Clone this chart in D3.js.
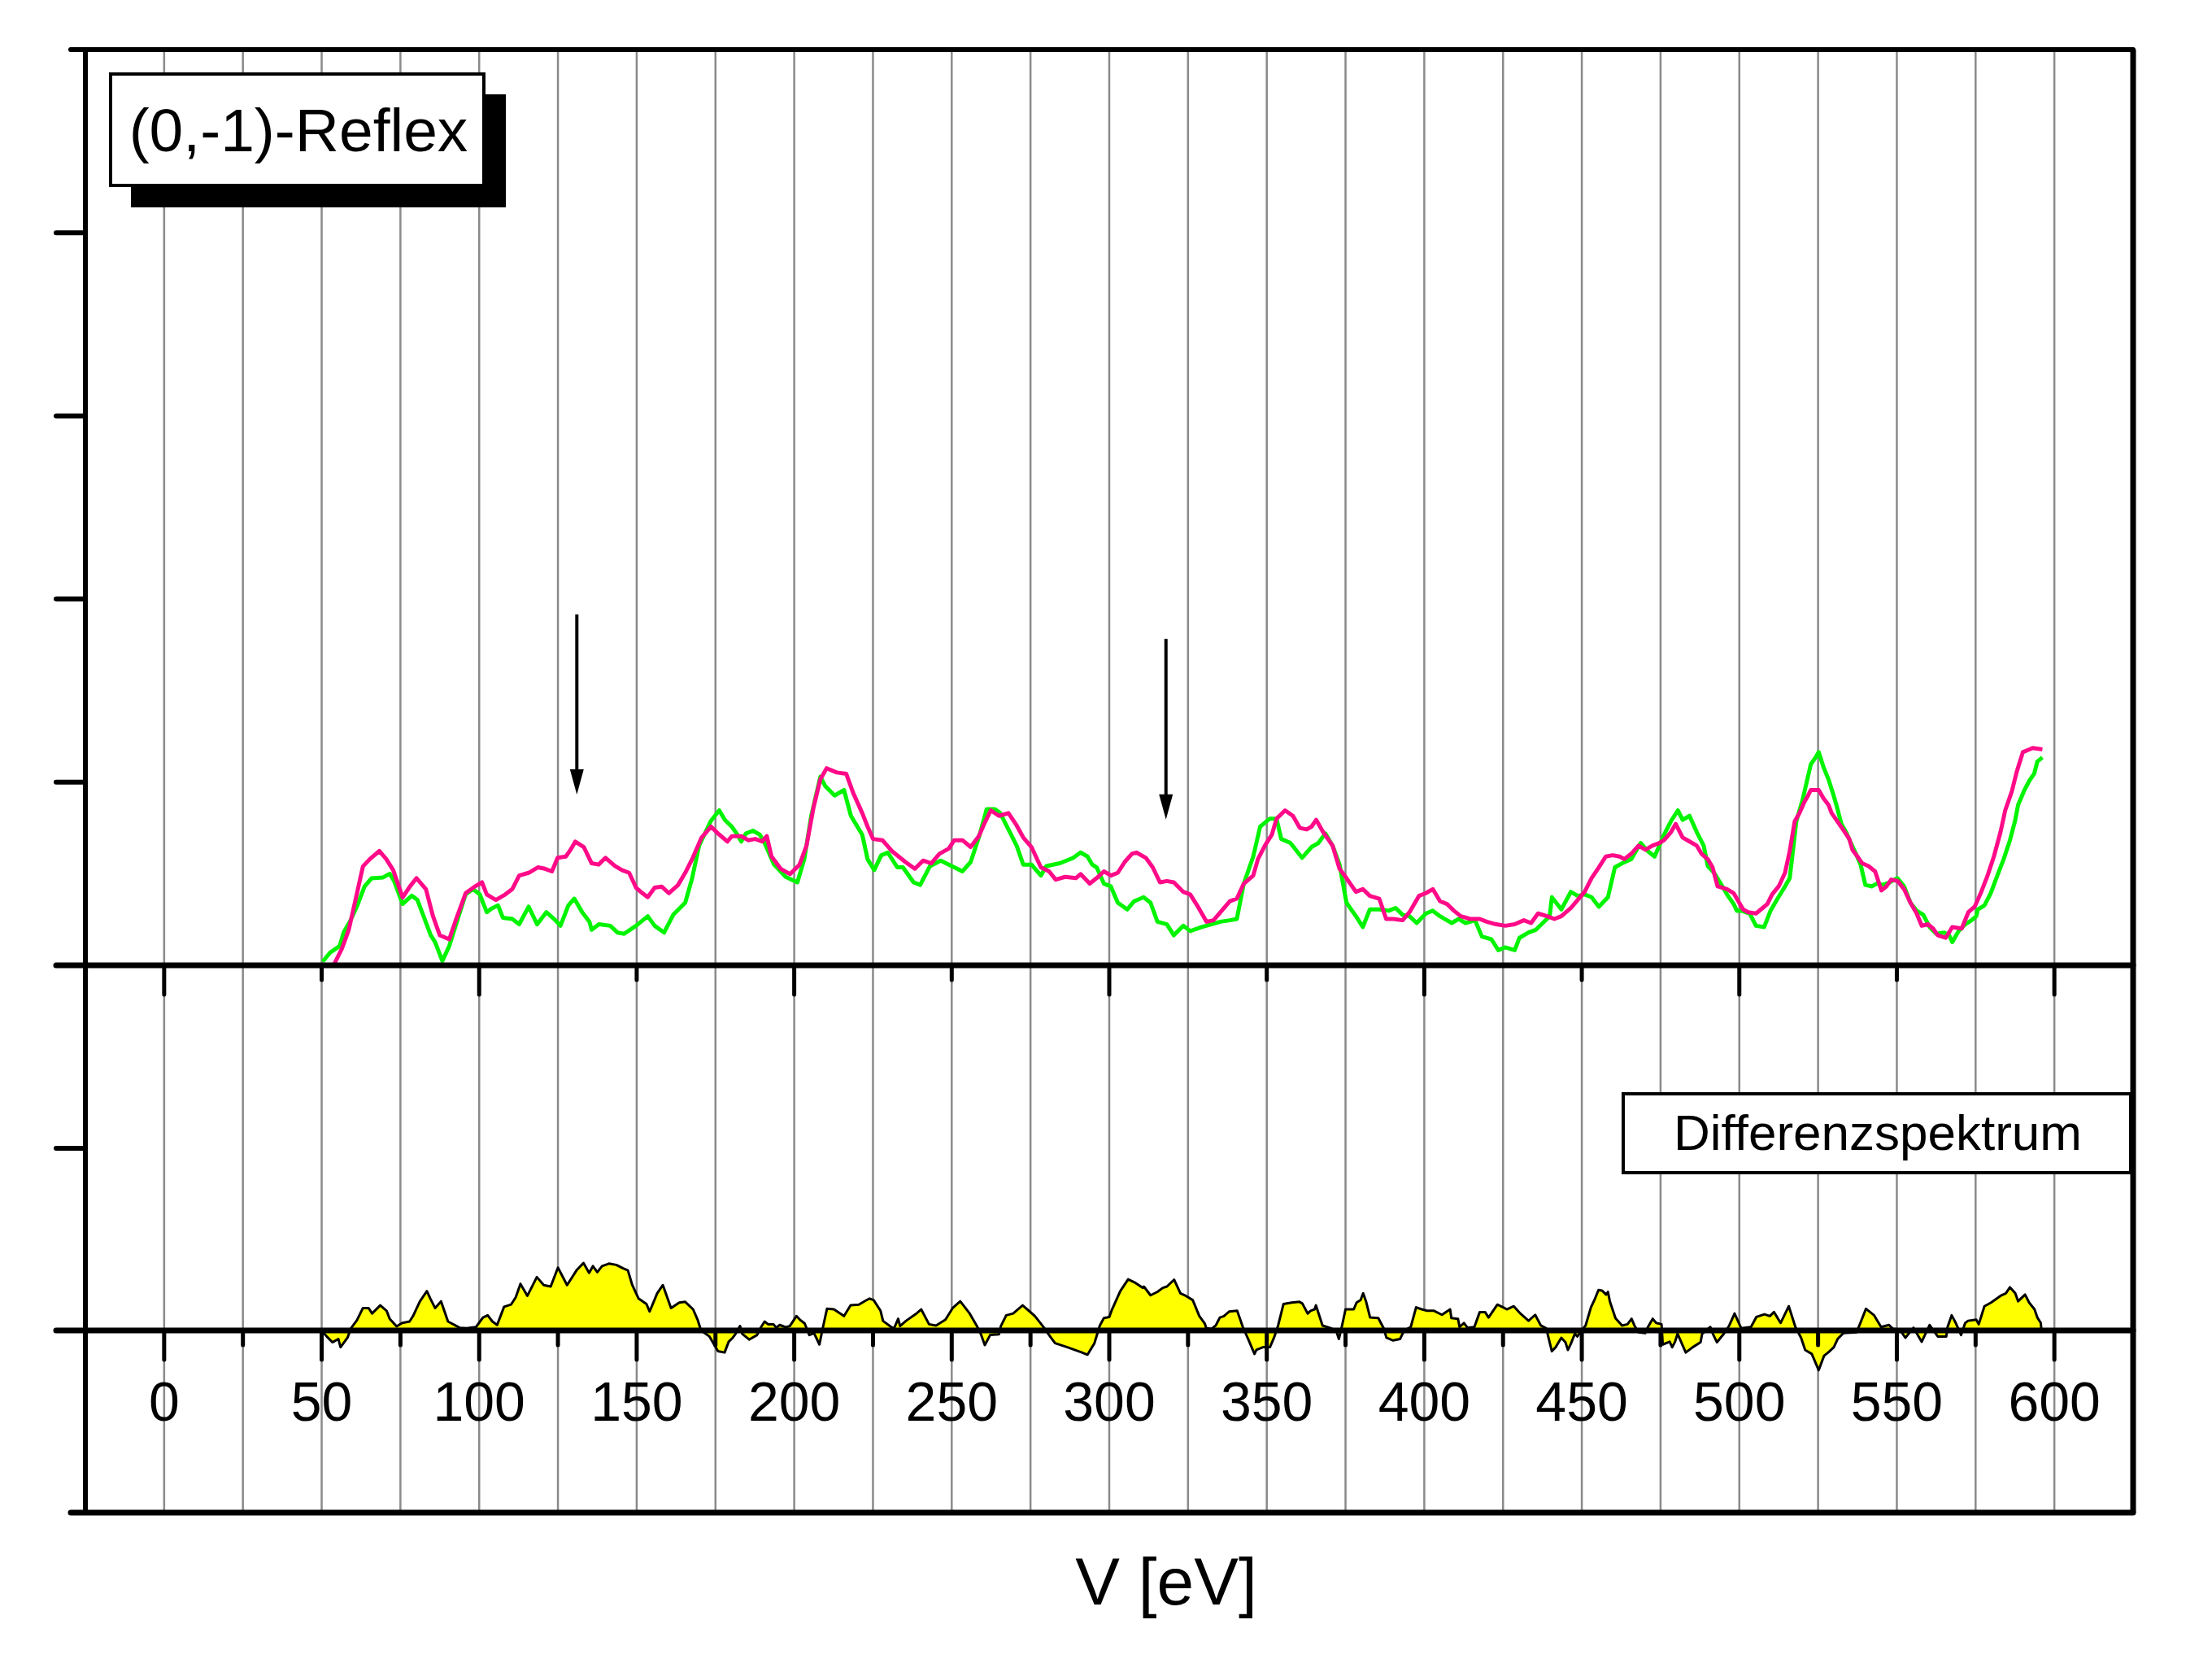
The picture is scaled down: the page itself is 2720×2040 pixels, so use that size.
<!DOCTYPE html>
<html>
<head>
<meta charset="utf-8">
<script src="https://cdn.jsdelivr.net/npm/d3@7"></script>
<style>
  html, body { margin: 0; padding: 0; background: #ffffff; }
  svg { display: block; }
  text { font-family: "Liberation Sans", Arial, sans-serif; fill: #000; }
</style>
</head>
<body>
<svg id="chart" width="2720" height="2040"></svg>
<script>
// ---------------- DATA ----------------
// energies (eV) and intensities (arbitrary units, one unit = one y-tick) of the green spectrum
const greenE = [50.3,52.7,55.7,57,59,61.4,63.6,65.8,69.5,71.6,73,75.7,78.6,80.4,82.3,84.6,86,88.3,90.5,93.5,95.7,98,100.2,102.4,103.9,106,107.5,110.5,112.7,115.7,118.4,121.3,123.8,125.8,128.3,130.2,132.7,135,135.7,138,141.6,143.9,146,149.8,153.5,155.7,158.7,161.6,165.4,167.6,169.8,173.5,176.2,178,180.2,181.7,183.2,184.7,186.9,189.1,190.6,193.6,197.3,201,203.2,205.4,208.3,209.8,212.8,215.8,218,221.6,223.3,225.4,227.6,229.7,232.7,234.5,237.9,240,243.1,246.5,250,253.4,256,258.6,261.1,263.7,265.4,268,270.6,272.7,275.3,278.3,280,284.3,286.4,288.6,290.9,293.1,294.6,296,298.3,300.5,302.7,305.7,307.9,310.9,313.1,315.3,318.3,320.5,323.5,325.7,329.4,332.4,335.3,338.3,340.5,342.7,345.7,347.9,350.9,353.1,354.6,357.5,361.2,364.2,366.4,368.6,370.9,373.1,375.3,378.3,380.5,382.7,385.7,388.7,390.9,393.1,395.3,397.6,400.5,402.7,405,408.7,410.9,413.1,416.1,418.3,421.3,423.5,425.7,428.7,430.2,433.1,435.4,437.6,439.8,440.5,443.5,446.5,448.7,450.9,453.1,455.4,458.3,460.5,462.8,465.7,468.7,470.9,473.1,474.6,476.1,478.3,480.5,482,484.2,486.5,488.7,490,492,494.1,496.1,498.2,499.2,500.7,503.3,505.3,507.9,509.9,511.9,514.5,516,517,518.1,520.1,521.1,522.7,524.2,525.2,526.7,528.3,529.8,530.8,532.4,533.9,535.4,537,538.5,540,542.1,543.6,545.6,547.7,550.2,552.3,554.3,556.3,558.4,560.4,562.5,565,566.6,567.6,569.6,571.7,573.7,575.2,575.7,577.8,579.8,581.9,583.9,585.9,587.5,588.5,590.5,592.1,593.6,594.6,596.2];
const greenI = [0.02,0.07,0.105,0.18,0.24,0.33,0.43,0.475,0.48,0.5,0.46,0.335,0.38,0.357,0.27,0.165,0.127,0.024,0.105,0.27,0.387,0.416,0.387,0.29,0.31,0.327,0.26,0.253,0.224,0.32,0.224,0.29,0.253,0.216,0.327,0.364,0.29,0.238,0.194,0.224,0.216,0.179,0.172,0.216,0.268,0.216,0.179,0.276,0.342,0.476,0.653,0.787,0.846,0.794,0.757,0.72,0.676,0.72,0.735,0.713,0.668,0.55,0.483,0.453,0.58,0.816,1.03,0.98,0.927,0.957,0.816,0.713,0.579,0.52,0.6,0.616,0.535,0.535,0.453,0.439,0.542,0.572,0.542,0.513,0.564,0.698,0.853,0.853,0.831,0.742,0.653,0.55,0.55,0.49,0.542,0.557,0.572,0.587,0.616,0.594,0.55,0.535,0.446,0.431,0.342,0.305,0.35,0.372,0.342,0.238,0.224,0.164,0.216,0.187,0.209,0.224,0.238,0.246,0.253,0.446,0.594,0.757,0.8,0.8,0.69,0.668,0.587,0.646,0.668,0.72,0.653,0.55,0.342,0.268,0.209,0.305,0.305,0.298,0.313,0.276,0.268,0.231,0.283,0.298,0.268,0.231,0.253,0.231,0.246,0.157,0.142,0.083,0.098,0.083,0.15,0.179,0.194,0.231,0.268,0.372,0.305,0.401,0.379,0.387,0.372,0.32,0.372,0.535,0.557,0.58,0.668,0.624,0.594,0.653,0.713,0.787,0.846,0.794,0.816,0.727,0.653,0.542,0.505,0.446,0.387,0.335,0.298,0.298,0.283,0.216,0.209,0.298,0.357,0.431,0.476,0.624,0.787,0.905,0.979,1.098,1.135,1.164,1.083,1.016,0.935,0.876,0.772,0.727,0.668,0.609,0.55,0.439,0.431,0.446,0.439,0.453,0.476,0.431,0.342,0.298,0.276,0.209,0.172,0.179,0.164,0.127,0.187,0.224,0.246,0.268,0.305,0.327,0.394,0.49,0.579,0.683,0.787,0.876,0.957,1.009,1.046,1.113,1.135];

// magenta spectrum
const pinkE = [53.5,56.4,58.6,60.9,63.1,65.3,68.3,70.5,72.7,75.7,78,80.1,83.1,85.3,87.5,90.5,92.7,95.7,98.6,100.9,102.4,105.3,108.3,110.5,112.7,115.7,118.6,120.9,123.1,124.9,127.5,129,130.5,133.2,135.7,137.9,140.1,143.1,145.3,147.6,149.8,151.3,153.5,155.7,157.9,160.2,163.1,165.4,167.6,170.6,173.6,175.8,178.8,180.2,183.2,185.4,187.6,189.8,191.3,192.8,195.7,198.7,201.7,203.9,206.1,208.3,210.3,213.5,216.5,218.7,221.6,223.3,225,228,231,235.3,238.3,240.9,243.5,246.1,249.1,250.8,253.4,256,258.6,260.3,262.4,265,268,270.6,272.7,275.3,278.3,280.9,283,286,289.4,290.9,293.8,296,298.3,300.5,302.7,304.9,307.2,308.6,311.6,313.8,316.1,318.3,320.5,323.5,325.7,327.9,330.9,333.1,335.3,338.3,340.5,342.7,345.7,347.2,349.4,351.6,353.1,355.8,358.3,360.5,362.7,364.2,365.7,367.9,370.9,373.1,375.3,378.3,380.5,382.7,385.7,387.9,390.2,393.1,395.3,398.3,400.5,402.7,405,407.2,409.4,411.6,414.6,417.6,419.8,422.8,425.7,428.7,431.6,433.9,436.1,439,441.3,443.5,446.5,448.7,450.9,453.1,455.4,457.6,459.8,462,463.5,465.7,468,470.2,472.4,474.6,476.1,478.3,479.8,482,484.2,486.5,488,490,491.5,493.1,494.6,496.1,498.2,499.7,501.2,502.8,505.3,507.4,508.9,510.4,512.5,514.5,516,517.6,519.1,520.6,521.6,522.7,525.2,526.7,528.3,529.3,530.8,532.9,534.9,535.9,537.5,539,541,543.1,545.1,546.7,548.2,550.2,552.3,554.3,556.3,557.9,559.9,561.5,563,565.5,567.6,570.6,572.7,574.7,576.8,578.8,580.8,582.9,584.4,586.5,588,590,592.1,593.1,596.2];
const pinkI = [-0.01,0.09,0.194,0.37,0.54,0.58,0.624,0.58,0.52,0.37,0.43,0.476,0.416,0.27,0.164,0.142,0.253,0.394,0.43,0.453,0.387,0.357,0.387,0.416,0.49,0.505,0.535,0.527,0.513,0.587,0.594,0.631,0.675,0.646,0.557,0.55,0.587,0.542,0.52,0.505,0.424,0.401,0.372,0.424,0.43,0.394,0.438,0.505,0.58,0.698,0.757,0.72,0.676,0.705,0.705,0.683,0.69,0.676,0.705,0.594,0.527,0.498,0.55,0.653,0.86,1.016,1.076,1.053,1.046,0.942,0.831,0.757,0.69,0.683,0.624,0.564,0.527,0.572,0.557,0.609,0.638,0.683,0.683,0.646,0.705,0.772,0.846,0.816,0.831,0.764,0.698,0.646,0.535,0.513,0.468,0.483,0.476,0.498,0.446,0.476,0.513,0.49,0.505,0.564,0.609,0.616,0.587,0.535,0.453,0.46,0.453,0.401,0.387,0.327,0.238,0.246,0.29,0.35,0.364,0.446,0.49,0.58,0.653,0.713,0.8,0.846,0.816,0.75,0.742,0.757,0.794,0.727,0.653,0.527,0.476,0.401,0.416,0.379,0.364,0.253,0.253,0.246,0.29,0.379,0.394,0.416,0.35,0.335,0.298,0.268,0.253,0.253,0.238,0.224,0.216,0.224,0.246,0.231,0.283,0.268,0.253,0.268,0.313,0.357,0.401,0.476,0.535,0.594,0.601,0.594,0.58,0.609,0.653,0.631,0.653,0.668,0.683,0.727,0.772,0.698,0.676,0.653,0.609,0.579,0.535,0.431,0.424,0.416,0.394,0.35,0.305,0.29,0.283,0.313,0.335,0.387,0.431,0.505,0.624,0.787,0.831,0.89,0.92,0.957,0.957,0.913,0.876,0.831,0.794,0.742,0.69,0.631,0.594,0.557,0.542,0.513,0.409,0.431,0.468,0.461,0.416,0.342,0.283,0.216,0.224,0.201,0.164,0.15,0.209,0.201,0.29,0.32,0.401,0.49,0.594,0.727,0.846,0.95,1.053,1.164,1.179,1.187,1.179];

// difference spectrum (magenta - green)
const diffE = [50,51.6,53.4,55.3,56,58.2,59.3,61.2,63.1,64.9,66,68.6,70.6,71.6,73.8,75.6,77.9,79,81.2,83.4,84.5,86,87.9,90.1,93.8,96.1,99,101.2,102.7,104.2,105.7,107.9,110.1,111.6,113.1,115.3,118.3,120.5,122.7,125,127.9,130.9,133.1,134.9,136.1,137.5,139,141.2,143.5,145.7,147.2,148.6,150.6,153.1,154.1,156.5,158.3,160.9,163.5,165.4,167.9,169.4,170.4,173.1,175.8,177.9,179.2,180.5,181.4,182.8,183.5,185.7,188.2,189.5,190.6,191.7,193.4,194.3,195.4,197.3,198.6,200.7,202,203.3,204.8,206.3,208,208.9,210.4,212.6,215.8,217.9,220.5,222.6,223.9,225.2,227.4,228.2,230.8,231.7,233,233.6,235.5,238.5,240.3,242.8,245,248,250.3,252.7,255.7,257.9,259.2,260.5,262.2,265,265.6,267.3,269.5,272.5,276.4,278.9,281.5,282.8,286.7,291,293.1,295.3,297,298.3,300,300.9,303.5,306,308,310.6,311,313.1,315.3,317,318.3,320.6,322.6,324.3,326.5,328.6,330.3,330.8,332.5,333.8,335.1,336.4,338.1,340.6,342.4,344.1,346.1,346.7,348.8,351,352.3,353.6,355.3,357.9,360.4,361.3,363,363.9,365.2,365.6,367.7,369.9,372,372.9,373.8,375,377.6,378.5,379.8,380.6,381.5,382.8,385.4,387.1,388,390.1,392.3,393.6,395.7,397.4,399.2,400.9,403.1,405.6,408.2,408.6,410.7,411.2,412.6,413.7,415.9,417.6,419.3,420.4,423.2,425.4,426.2,428.4,430.5,433.1,435.2,437,438.7,440.5,441.7,443.5,444.8,445.6,446.5,447.8,448.6,449.9,451.2,452.9,454.2,455.3,456.4,457.7,458.3,458.9,460.7,462.8,464.5,465.8,466.7,468,470.1,471,472.5,473.6,475.3,475.7,477.9,478.7,479.6,480.4,483,485.2,487.7,488.2,490.8,491.6,492.9,495.1,496.8,498.5,500.6,503.7,505.4,508,509.7,511,513.1,515.7,517.8,519.6,520.9,523,525.2,526.9,528.2,530,531.2,533,537.2,538.1,540.2,542.8,545,547.5,548.8,551,552.7,555.3,557.9,560.4,563,565.7,566.1,567.4,568.7,570.4,571.7,572.6,575.2,576,577.8,579.9,582.9,584.6,585.9,587.6,588.5,590.7,592,593.7,594.6,595.7,595.9];
const diffI = [0,-0.033,-0.065,-0.047,-0.092,-0.04,0.012,0.056,0.123,0.123,0.093,0.138,0.108,0.064,0.022,0.041,0.049,0.079,0.16,0.216,0.175,0.123,0.16,0.049,0.015,0.012,0.019,0.071,0.083,0.049,0.03,0.13,0.142,0.182,0.256,0.19,0.293,0.249,0.241,0.345,0.249,0.33,0.37,0.316,0.353,0.32,0.353,0.367,0.36,0.341,0.33,0.249,0.175,0.145,0.104,0.204,0.249,0.123,0.153,0.157,0.116,0.056,0,-0.033,-0.114,-0.121,-0.062,-0.04,-0.018,0.024,-0.018,-0.05,-0.025,0.019,0.049,0.034,0.034,0.015,0.03,0.018,0.024,0.079,0.056,0.039,-0.025,-0.015,-0.077,0,0.119,0.116,0.079,0.138,0.142,0.163,0.175,0.167,0.108,0.052,0.019,0.012,0.064,0.024,0.053,0.089,0.116,0.034,0.027,0.059,0.123,0.16,0.093,0.027,-0.018,-0.08,-0.025,-0.021,0.024,0.083,0.093,0.138,0.079,0.024,-0.04,-0.07,-0.092,-0.119,-0.133,-0.07,0.027,0.068,0.074,0.116,0.216,0.281,0.264,0.234,0.241,0.193,0.212,0.234,0.241,0.279,0.204,0.19,0.167,0.079,0.039,0.012,0.009,0.027,0.071,0.079,0.104,0.108,0.019,-0.047,-0.129,-0.107,-0.092,-0.092,-0.04,0.027,0.145,0.153,0.157,0.148,0.093,0.108,0.116,0.138,0.027,0.015,0,-0.047,0.019,0.116,0.116,0.153,0.167,0.204,0.16,0.071,0.068,0.012,-0.04,-0.055,-0.047,0,0.019,0.127,0.116,0.108,0.108,0.086,0.116,0.068,0.064,0.019,0.041,0.015,0.019,0.101,0.101,0.071,0.142,0.123,0.116,0.133,0.093,0.053,0.086,0.027,0.012,-0.114,-0.092,-0.04,-0.065,-0.107,-0.074,-0.018,-0.033,0,0.027,0.127,0.175,0.222,0.219,0.197,0.212,0.16,0.067,0.027,0.034,0.064,0.027,-0.01,-0.015,0.019,0.064,0.041,0.034,-0.077,-0.062,-0.092,-0.062,-0.018,-0.121,-0.092,-0.065,-0.018,0.019,-0.018,-0.065,-0.018,0.027,0.093,0.012,0.019,0.074,0.089,0.079,0.101,0.041,0.133,0.019,-0.04,-0.107,-0.129,-0.218,-0.139,-0.121,-0.092,-0.047,-0.015,-0.01,0.027,0.119,0.083,0.019,0.03,0.009,0.004,-0.04,0.015,-0.062,0.03,-0.033,-0.033,0.019,0.083,0.041,-0.025,0.041,0.053,0.059,0.034,0.133,0.153,0.19,0.204,0.237,0.204,0.16,0.197,0.153,0.116,0.071,0.041,0];

// axis tick values / labels
const xGridValues = d3.range(0, 601, 25);
const xLabelValues = d3.range(0, 601, 50);
const topTickValues = d3.range(0, 601, 50);     // ticks on the spectrum axis
const leftTickTop = [1, 2, 3, 4];                 // y ticks of the spectrum panel
const leftTickDiff = [1, 0];                      // y ticks of the difference panel
// arrows: energy, start and tip (spectrum units)
const arrowE = [131, 318];
const arrowTop = [1.916, 1.782];
const arrowTip = [0.933, 0.796];
const titleText = "(0,-1)-Reflex";
const diffLabel = "Differenzspektrum";
const xTitle = "V [eV]";

// ---------------- LAYOUT ----------------
const svg = d3.select("#chart");
const L = 105, R = 2623, T = 61, B = 1860;
const x = d3.scaleLinear().domain([-25, 625]).range([L, R]);
const yTop = d3.scaleLinear().domain([0, 5]).range([1187, T]);
const yDiff = d3.scaleLinear().domain([-1, 1]).range([B, 1412]);

svg.append("rect").attr("width", 2720).attr("height", 2040).attr("fill", "#ffffff");

// vertical gridlines
svg.append("g").selectAll("line").data(xGridValues).join("line")
  .attr("x1", d => x(d)).attr("x2", d => x(d))
  .attr("y1", T).attr("y2", B)
  .attr("stroke", "#8a8a8a").attr("stroke-width", 2.5);

// difference spectrum
const dData = diffE.map((e, i) => [e, diffI[i]]);
svg.append("path").datum(dData)
  .attr("d", d3.area().x(d => x(d[0])).y0(yDiff(0)).y1(d => yDiff(d[1])))
  .attr("fill", "#ffff00");
svg.append("path").datum(dData)
  .attr("d", d3.line().x(d => x(d[0])).y(d => yDiff(d[1])))
  .attr("fill", "none").attr("stroke", "#000").attr("stroke-width", 3).attr("stroke-linejoin", "round");

// spectra
const gData = greenE.map((e, i) => [e, greenI[i]]);
const pData = pinkE.map((e, i) => [e, pinkI[i]]);
const line = d3.line().x(d => x(d[0])).y(d => yTop(d[1]));
svg.append("path").datum(gData).attr("d", line)
  .attr("fill", "none").attr("stroke", "#00f400").attr("stroke-width", 5).attr("stroke-linejoin", "round");
svg.append("path").datum(pData).attr("d", line)
  .attr("fill", "none").attr("stroke", "#ff0a88").attr("stroke-width", 5).attr("stroke-linejoin", "round");

// horizontal axis lines
svg.append("line").attr("x1", 69).attr("x2", R).attr("y1", yTop(0)).attr("y2", yTop(0))
  .attr("stroke", "#000").attr("stroke-width", 7).attr("stroke-linecap", "round");
svg.append("line").attr("x1", 69).attr("x2", R).attr("y1", yDiff(0)).attr("y2", yDiff(0))
  .attr("stroke", "#000").attr("stroke-width", 7).attr("stroke-linecap", "round");

// ticks below spectrum axis
svg.append("g").selectAll("line").data(topTickValues).join("line")
  .attr("x1", d => x(d)).attr("x2", d => x(d))
  .attr("y1", yTop(0)).attr("y2", d => yTop(0) + (d % 100 === 0 ? 36 : 18))
  .attr("stroke", "#000").attr("stroke-width", 5).attr("stroke-linecap", "round");
// ticks below difference axis
svg.append("g").selectAll("line").data(xGridValues).join("line")
  .attr("x1", d => x(d)).attr("x2", d => x(d))
  .attr("y1", yDiff(0)).attr("y2", d => yDiff(0) + (d % 50 === 0 ? 36 : 18))
  .attr("stroke", "#000").attr("stroke-width", 5).attr("stroke-linecap", "round");

// left ticks
const leftTicks = leftTickTop.map(v => yTop(v)).concat(leftTickDiff.map(v => yDiff(v)));
svg.append("g").selectAll("line").data(leftTicks).join("line")
  .attr("x1", 69).attr("x2", L).attr("y1", d => d).attr("y2", d => d)
  .attr("stroke", "#000").attr("stroke-width", 6).attr("stroke-linecap", "round");

// frame
svg.append("line").attr("x1", 87).attr("x2", R).attr("y1", T).attr("y2", T)
  .attr("stroke", "#000").attr("stroke-width", 6).attr("stroke-linecap", "round");
svg.append("line").attr("x1", 87).attr("x2", R).attr("y1", B).attr("y2", B)
  .attr("stroke", "#000").attr("stroke-width", 7).attr("stroke-linecap", "round");
svg.append("line").attr("x1", L).attr("x2", L).attr("y1", T).attr("y2", B)
  .attr("stroke", "#000").attr("stroke-width", 6);
svg.append("line").attr("x1", R).attr("x2", R).attr("y1", T).attr("y2", B)
  .attr("stroke", "#000").attr("stroke-width", 7);

// x tick labels
svg.append("g").selectAll("text").data(xLabelValues).join("text")
  .attr("x", d => x(d)).attr("y", 1747)
  .attr("text-anchor", "middle").attr("font-size", 68)
  .text(d => d);

// axis title
svg.append("text").attr("x", 1434).attr("y", 1973)
  .attr("text-anchor", "middle").attr("font-size", 82).text(xTitle);

// arrows
arrowE.forEach((e, i) => {
  const ax = x(e), y0 = yTop(arrowTop[i]), y1 = yTop(arrowTip[i]);
  svg.append("line").attr("x1", ax).attr("x2", ax).attr("y1", y0).attr("y2", y1 - 25)
    .attr("stroke", "#000").attr("stroke-width", 4);
  svg.append("path")
    .attr("d", `M${ax - 8.5},${y1 - 31} L${ax + 8.5},${y1 - 31} L${ax},${y1} Z`)
    .attr("fill", "#000");
});

// title box with shadow
svg.append("rect").attr("x", 161).attr("y", 116).attr("width", 461).attr("height", 139).attr("fill", "#000");
svg.append("rect").attr("x", 136).attr("y", 91).attr("width", 459).attr("height", 137)
  .attr("fill", "#fff").attr("stroke", "#000").attr("stroke-width", 4);
svg.append("text").attr("x", 367).attr("y", 186).attr("text-anchor", "middle")
  .attr("font-size", 75).text(titleText);

// difference label box
svg.append("rect").attr("x", 1996).attr("y", 1345).attr("width", 624).attr("height", 97)
  .attr("fill", "#fff").attr("stroke", "#000").attr("stroke-width", 4);
svg.append("text").attr("x", 2309).attr("y", 1414).attr("text-anchor", "middle")
  .attr("font-size", 62).text(diffLabel);
</script>
</body>
</html>
